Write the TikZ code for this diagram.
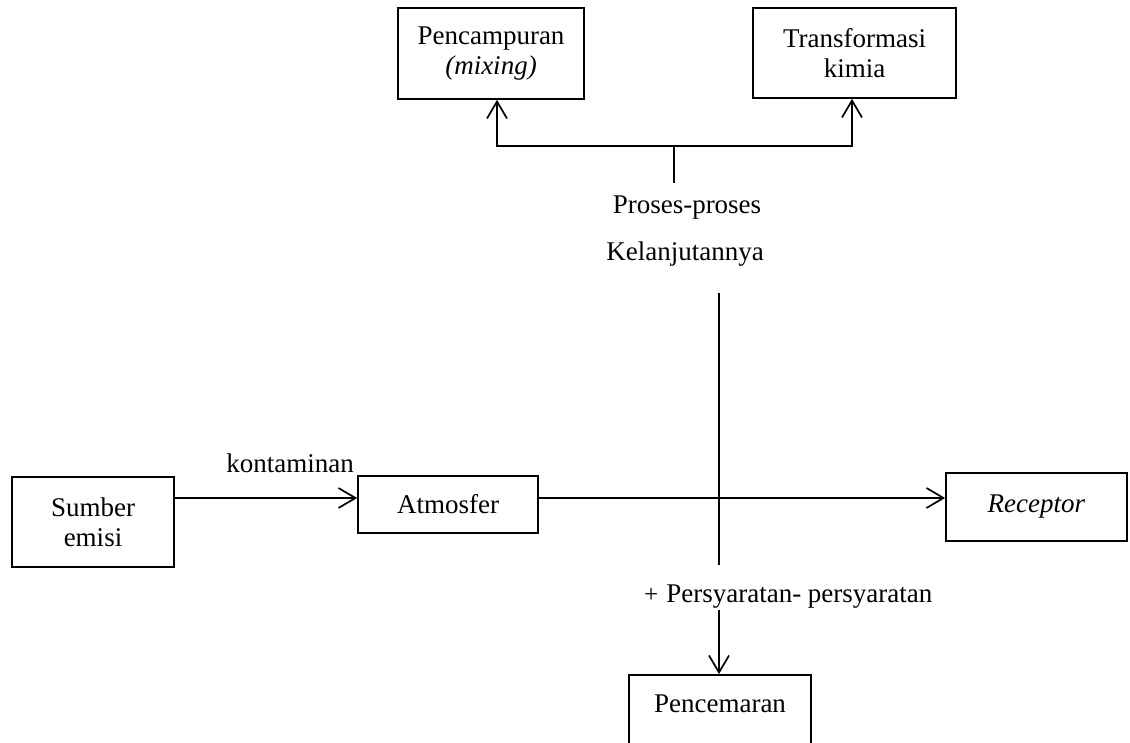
\documentclass[tikz,border=0pt]{standalone}
\usepackage{fontspec}
\setmainfont{Liberation Serif}
\usetikzlibrary{arrows.meta}
\begin{document}
\begin{tikzpicture}[x=1pt,y=-1pt,
  txt/.style={font=\fontsize{27}{30}\selectfont},
  box/.style={txt, draw, line width=1.7pt, inner sep=0pt, align=center},
  lbl/.style={txt, inner sep=0pt},
  conn/.style={line width=1.7pt},
  arr/.style={conn, -{Straight Barb[length=17pt,width=20pt,line width=1.7pt]}}]
\useasboundingbox (0,0) rectangle (1130,743);
\clip (0,0) rectangle (1130,743);
% top boxes
\node[box, minimum width=186pt, minimum height=91pt] (mix) at (491,53.5) {Pencampuran\\\textit{(mixing)}};
\node[box, minimum width=203pt, minimum height=90pt] (trf) at (854.5,53) {Transformasi\\kimia};
% middle row
\node[box, minimum width=162pt, minimum height=90pt] (src) at (93,522) {Sumber\\emisi};
\node[box, minimum width=180pt, minimum height=57pt] (atm) at (448,504.5) {Atmosfer};
\node[box, minimum width=181pt, minimum height=68pt] (rec) at (1036.5,507) {\textit{Receptor}};
% bottom box
\node[box, minimum width=182pt, text height=19pt, text depth=60pt, inner ysep=18pt, anchor=base] (pol) at (720,712) {Pencemaran};
% labels
\node[lbl, anchor=base] (pp) at (687,214) {Proses-proses};
\node[lbl, anchor=base] (kl) at (685,261) {Kelanjutannya};
\node[lbl, anchor=base] (kt) at (290,472) {kontaminan};
\node[lbl, anchor=base west] (ps) at (644,602) {{\fontsize{25}{25}\selectfont+}\hspace{8pt}Persyaratan- persyaratan};
% coordinates
\coordinate (j) at (674,146);
\coordinate (jb) at (674,183);
\coordinate (jl) at (497,146);
\coordinate (jr) at (852,146);
\coordinate (vt) at (719,293);
\coordinate (vb) at (719,565);
\coordinate (my) at (0,498);
\coordinate (pa) at (719,610);
% connectors
\draw[conn] (jb) -- (j);
\draw[arr] (j) -- (jl) -- (jl |- mix.south);
\draw[arr] (j) -- (jr) -- (jr |- trf.south);
\draw[conn] (vt) -- (vb);
\draw[arr] (src.east |- my) -- (atm.west |- my);
\draw[arr] (atm.east |- my) -- (rec.west |- my);
\draw[arr] (pa) -- (pol.north -| pa);
\end{tikzpicture}
\end{document}
